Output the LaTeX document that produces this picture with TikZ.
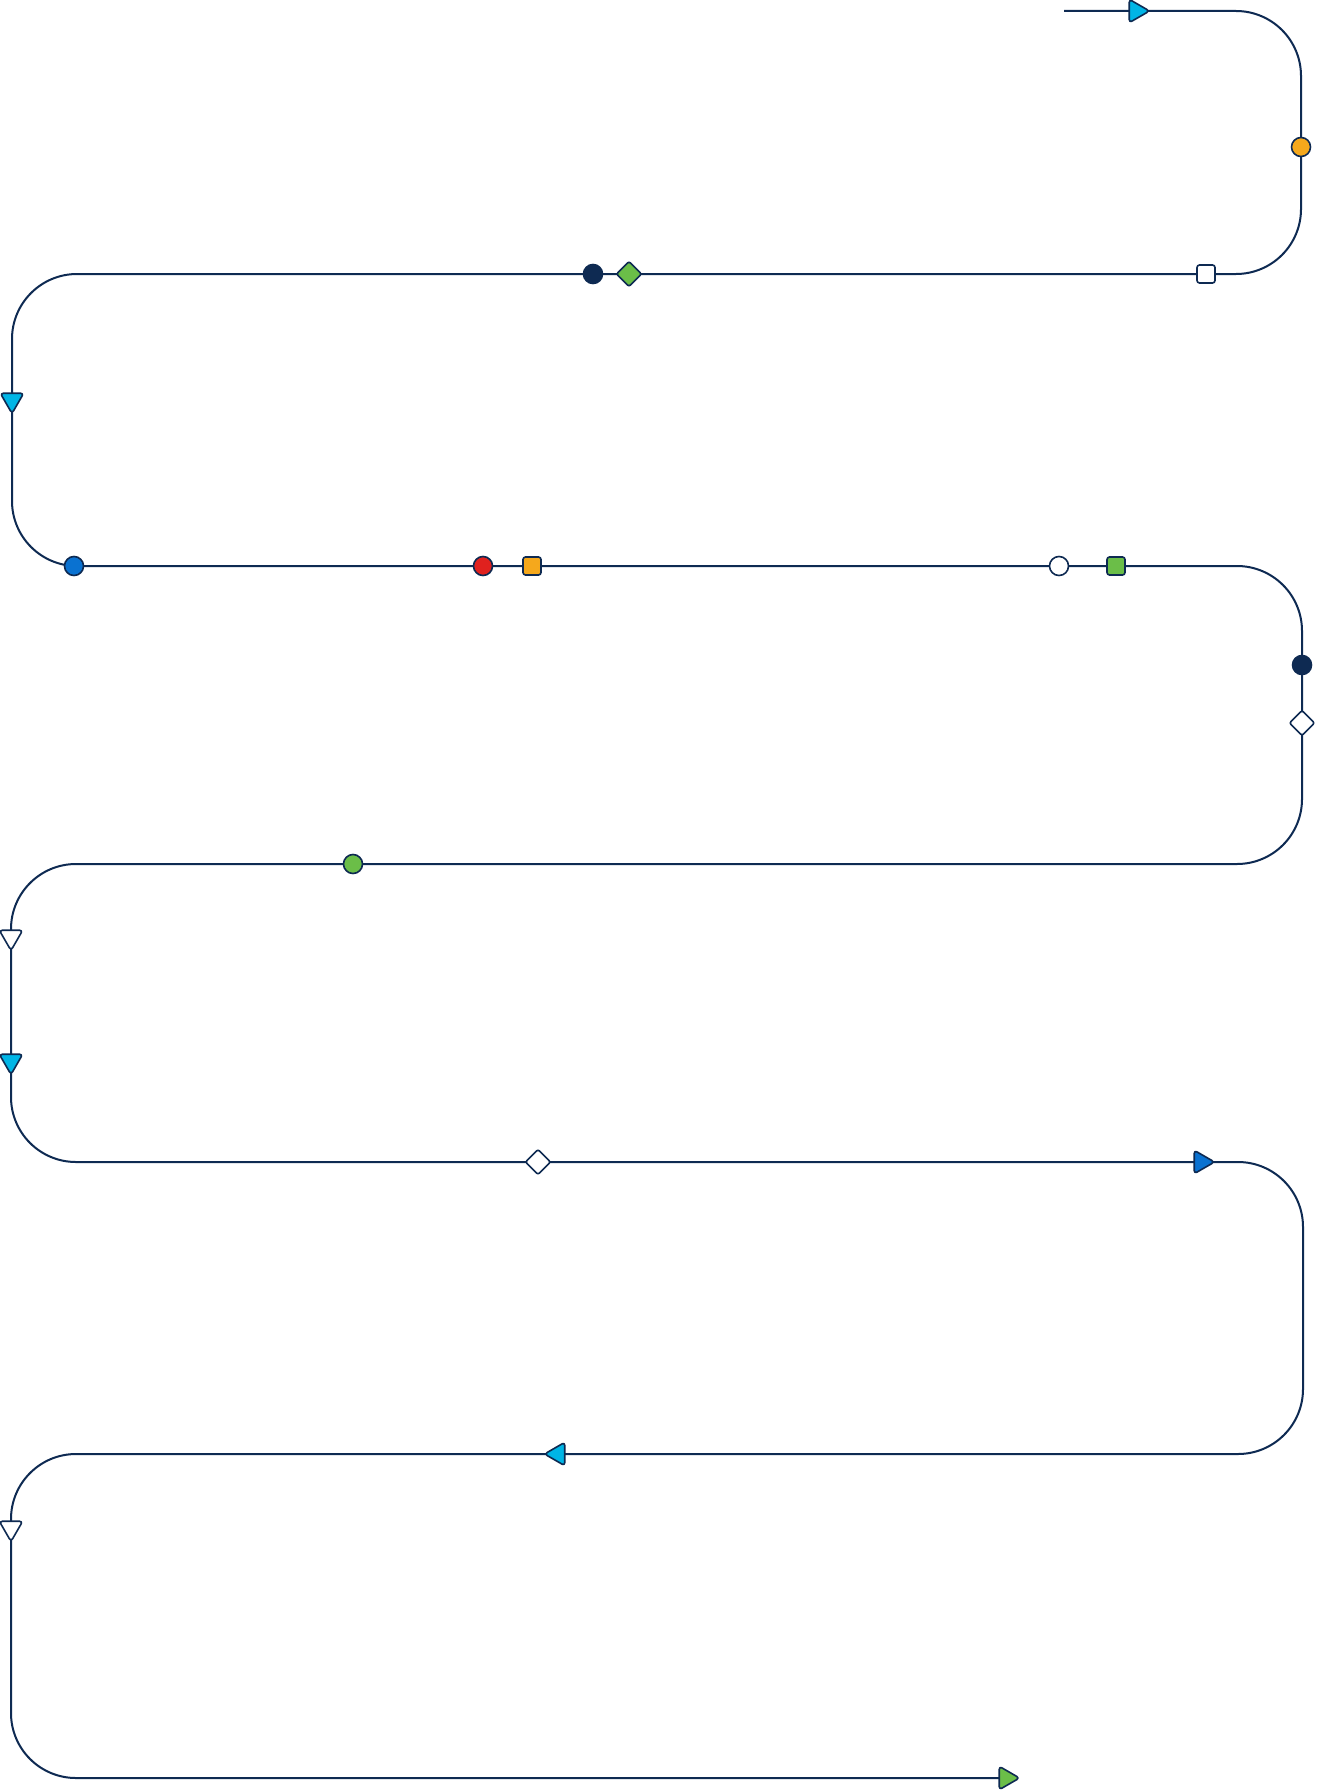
\documentclass[tikz,border=0pt]{standalone}
\usepackage{xcolor}
\usetikzlibrary{shapes.geometric}
\definecolor{Navy}{HTML}{0E2A52}
\definecolor{Cyan}{HTML}{00B5E6}
\definecolor{Amber}{HTML}{F5A81C}
\definecolor{Leaf}{HTML}{6BBE48}
\definecolor{Azure}{HTML}{0A72D1}
\definecolor{Scarlet}{HTML}{E0211E}

\tikzset{
  mark base/.style={draw=Navy, line width=1.6pt, inner sep=0pt, outer sep=0pt},
  dot/.style={mark base, circle, minimum size=19pt, fill=#1},
  sqbox/.style={mark base, rectangle, rounded corners=2.5pt, minimum size=18pt, fill=#1},
  gem/.style={mark base, diamond, rounded corners=2pt, minimum width=25pt, minimum height=25pt, fill=#1},
  tri/.style={mark base, regular polygon, regular polygon sides=3, rounded corners=3pt,
    line join=round, minimum size=27pt, fill=#1},
  pright/.style={tri=#1, shape border rotate=-90},
  pdown/.style={tri=#1, shape border rotate=180},
  pleft/.style={tri=#1, shape border rotate=90},
}

\begin{document}
\begin{tikzpicture}[x=1pt, y=-1pt]
  \useasboundingbox[fill=white] (0,0) rectangle (1317,1790);

  % the winding track
  \coordinate (start) at (1064,11);
  \coordinate (finish) at (1004,1778);
  \draw[Navy, line width=2pt, rounded corners=65pt]
    (start) -- (1301,11) -- (1301,274) -- (12,274) -- (12,566)
    -- (1302,566) -- (1302,864) -- (11,864) -- (11,1162)
    -- (1303,1162) -- (1303,1454) -- (11,1454) -- (11,1778) -- (finish);

  % markers along the track
  \node[pright=Cyan]   (t1)  at (1136,11)   {};
  \node[dot=Amber]     (c1)  at (1301,147)  {};
  \node[sqbox=white]   (s1)  at (1206,274)  {};
  \node[gem=Leaf]      (d1)  at (629,274)   {};
  \node[dot=Navy]      (c2)  at (593,274)   {};
  \node[pdown=Cyan]    (t2)  at (12,400)    {};
  \node[dot=Azure]     (c3)  at (74,566)    {};
  \node[dot=Scarlet]   (c4)  at (483,566)   {};
  \node[sqbox=Amber]   (s2)  at (532,566)   {};
  \node[dot=white]     (c5)  at (1059,566)  {};
  \node[sqbox=Leaf]    (s3)  at (1116,566)  {};
  \node[dot=Navy]      (c6)  at (1302,665)  {};
  \node[gem=white]     (d2)  at (1302,723)  {};
  \node[dot=Leaf]      (c7)  at (353,864)   {};
  \node[pdown=white]   (t3)  at (11,937)    {};
  \node[pdown=Cyan]    (t4)  at (11,1061)   {};
  \node[gem=white]     (d3)  at (538,1162)  {};
  \node[pright=Azure]  (t5)  at (1201,1162) {};
  \node[pleft=Cyan]    (t6)  at (558,1454)  {};
  \node[pdown=white]   (t7)  at (11,1528)   {};
  \node[pright=Leaf]   (t8)  at (1006,1778) {};
\end{tikzpicture}
\end{document}
